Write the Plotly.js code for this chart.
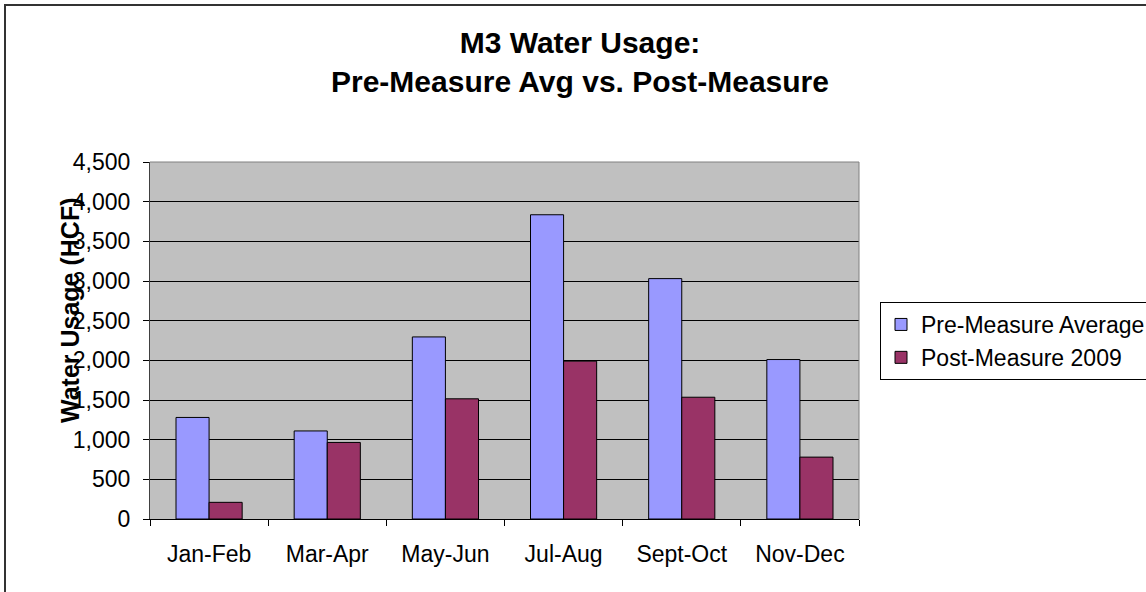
<!DOCTYPE html>
<html>
<head>
<meta charset="utf-8">
<script src="https://cdn.plot.ly/plotly-3.0.1.min.js"></script>
<style>
  html, body { margin: 0; padding: 0; background: #fff; }
  #chart { width: 1146px; height: 592px; }
</style>
</head>
<body>
<div id="chart"></div>
<script>
const categories = ["Jan-Feb", "Mar-Apr", "May-Jun", "Jul-Aug", "Sept-Oct", "Nov-Dec"];
const preMeasureAverage = [1280, 1110, 2295, 3835, 3030, 2010];
const postMeasure2009 = [210, 965, 1515, 1990, 1535, 780];
const seriesNames = ["Pre-Measure Average", "Post-Measure 2009"];
const yTickValues = [0, 500, 1000, 1500, 2000, 2500, 3000, 3500, 4000, 4500];

const FONT = "'Liberation Sans', Arial, sans-serif";

const traces = [
  {
    type: "bar",
    name: seriesNames[0],
    x: categories,
    y: preMeasureAverage,
    marker: { color: "#9999FF", line: { color: "#000000", width: 1 } },
    hoverinfo: "x+y+name"
  },
  {
    type: "bar",
    name: seriesNames[1],
    x: categories,
    y: postMeasure2009,
    marker: { color: "#993366", line: { color: "#000000", width: 1 } },
    hoverinfo: "x+y+name"
  }
];

const W = 1146, H = 592;
const L = 150, R = W - 859, T = 162, B = H - 519;
const pw = W - L - R, ph = H - T - B;

const layout = {
  width: W,
  height: H,
  margin: { l: L, r: R, t: T, b: B, pad: 0 },
  paper_bgcolor: "#FFFFFF",
  plot_bgcolor: "#C0C0C0",
  font: { family: FONT, size: 23, color: "#000000" },
  title: {
    text: "M3 Water Usage:<br>Pre-Measure Avg vs. Post-Measure",
    font: { family: FONT, size: 30, color: "#000000", weight: "bold" },
    xref: "container",
    x: 580 / W,
    xanchor: "center",
    yref: "container",
    y: 1 - 53 / H,
    yanchor: "middle"
  },
  barmode: "group",
  bargap: 0.44,
  bargroupgap: 0,
  showlegend: true,
  legend: {
    xref: "container",
    yref: "container",
    x: 880 / W,
    xanchor: "left",
    y: 1 - 302 / H,
    yanchor: "top",
    bordercolor: "#000000",
    borderwidth: 1,
    bgcolor: "#FFFFFF",
    font: { family: FONT, size: 23, color: "#000000" },
    traceorder: "normal"
  },
  xaxis: {
    type: "category",
    showgrid: false,
    showline: true,
    linecolor: "#000000",
    linewidth: 1,
    ticks: "outside",
    tickson: "boundaries",
    ticklen: 6,
    tickcolor: "#000000",
    tickfont: { family: FONT, size: 23, color: "#000000" },
    ticklabelstandoff: 14,
    automargin: false,
    fixedrange: true
  },
  yaxis: {
    range: [0, 4500],
    tickvals: yTickValues,
    tickformat: ",",
    showgrid: true,
    gridcolor: "#000000",
    gridwidth: 1,
    zeroline: false,
    showline: true,
    linecolor: "#404040",
    linewidth: 1,
    ticks: "outside",
    ticklen: 6,
    tickcolor: "#000000",
    tickfont: { family: FONT, size: 23, color: "#000000" },
    ticklabelstandoff: 8,
    automargin: false,
    fixedrange: true
  },
  annotations: [
    {
      text: "Water Usage (HCF)",
      xref: "paper",
      yref: "paper",
      x: (70 - L) / pw,
      y: (519 - 310) / ph,
      xanchor: "center",
      yanchor: "middle",
      textangle: -90,
      showarrow: false,
      font: { family: FONT, size: 25, color: "#000000", weight: "bold" }
    }
  ],
  shapes: [
    {
      type: "line", xref: "paper", yref: "paper",
      x0: 0, x1: 1, y0: 1, y1: 1,
      line: { color: "#808080", width: 1 }, layer: "above"
    },
    {
      type: "line", xref: "paper", yref: "paper",
      x0: 1, x1: 1, y0: 0, y1: 1,
      line: { color: "#808080", width: 1 }, layer: "above"
    },
    {
      type: "rect", xref: "paper", yref: "paper",
      x0: (5 - L) / pw, x1: (1200 - L) / pw,
      y0: (519 - 700) / ph, y1: (519 - 5) / ph,
      line: { color: "#333333", width: 2 }, fillcolor: "rgba(0,0,0,0)", layer: "above"
    }
  ]
};

Plotly.newPlot("chart", traces, layout, { displayModeBar: false, responsive: false });
</script>
</body>
</html>
